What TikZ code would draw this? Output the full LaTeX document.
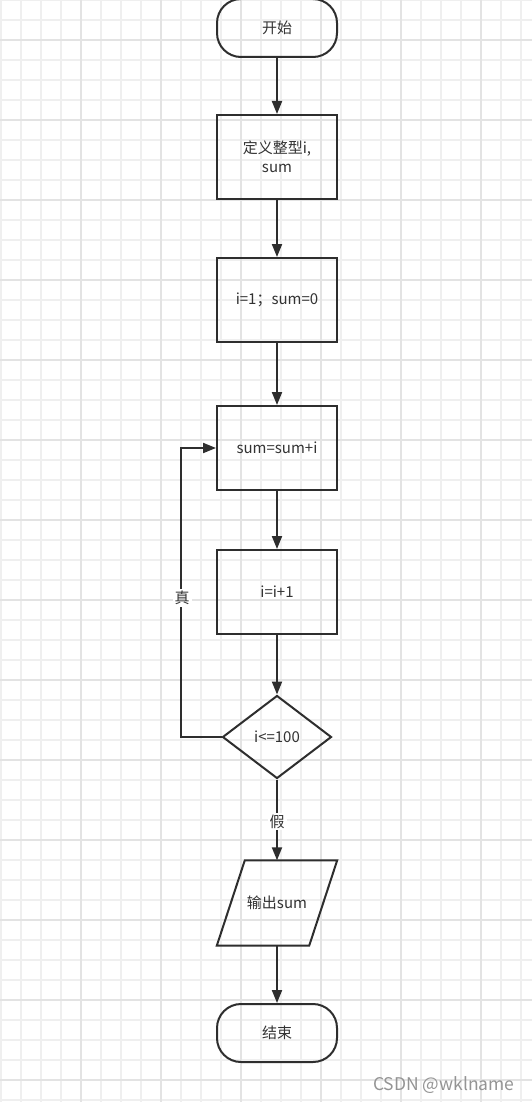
\documentclass[tikz,border=0pt]{standalone}
\usepackage{fontspec}
\setmainfont{Noto Sans CJK SC}
\usetikzlibrary{shapes.geometric,arrows.meta}
\definecolor{ln}{HTML}{2E2E2E}
\definecolor{txt}{HTML}{333333}
\definecolor{gridminor}{HTML}{EFEFEF}
\definecolor{gridmajor}{HTML}{E3E3E3}
\begin{document}
\begin{tikzpicture}[x=1pt,y=-1pt,
  lbl/.style={font=\fontsize{15}{19}\selectfont,text=txt},
  box/.style={lbl,draw=ln,line width=2pt,minimum width=120pt,minimum height=84pt,inner sep=0pt,align=center},
  term/.style={box,rounded corners=24pt,minimum height=58pt},
  dec/.style={lbl,draw=ln,line width=2pt,diamond,minimum width=109pt,minimum height=83pt,inner sep=0pt,aspect=1.3},
  flow/.style={draw=ln,line width=2pt,-{Triangle[length=13pt,width=10pt]}},
  onl/.style={lbl,fill=white,inner sep=2pt}
]
\useasboundingbox (0,0) rectangle (532,1102);
\fill[white] (0,0) rectangle (532,1102);
\foreach \x in {0,20,...,520} \draw[gridminor,line width=1.6pt] (\x+1,0) -- (\x+1,1102);
\foreach \y in {0,20,...,1100} \draw[gridminor,line width=1.6pt] (0,\y) -- (532,\y);
\foreach \x in {80,160,...,520} \draw[gridmajor,line width=1.8pt] (\x+1,0) -- (\x+1,1102);
\foreach \y in {40,120,...,1100} \draw[gridmajor,line width=1.8pt] (0,\y) -- (532,\y);

\node[term] (start) at (277,28) {开始};
\node[box] (b1) at (277,157) {定义整型i,\\sum};
\node[box] (b2) at (277,300) {i=1；sum=0};
\node[box] (b3) at (277,448) {sum=sum+i};
\node[box] (b4) at (277,592) {i=i+1};
\node[dec] (dia) at (277,737) {i<=100};
\node[lbl,minimum width=120pt,minimum height=85pt,inner sep=0pt] (out) at (277,903) {输出sum};
\draw[ln,line width=2pt,line join=miter]
  ([xshift=28pt]out.north west) -- (out.north east) -- ([xshift=-28pt]out.south east) -- (out.south west) -- cycle;
\node[term] (end) at (277,1033) {结束};

\draw[flow] (start) -- (b1);
\draw[flow] (b1) -- (b2);
\draw[flow] (b2) -- (b3);
\draw[flow] (b3) -- (b4);
\draw[flow] (b4) -- (dia);
\draw[flow] (dia.south) -- (out.north) node[onl,pos=0.52] {假};
\draw[flow] (out.south) -- (end.north);
\coordinate (corner) at (181,737);
\draw[flow] (dia.west) -- (corner) |- (b3.west);
\node[onl] (tlab) at (182,598) {真};

\node[font=\fontsize{17.5}{20}\selectfont,text=black!42,anchor=east] (wm) at (518,1085) {CSDN @wklname};
\end{tikzpicture}
\end{document}
